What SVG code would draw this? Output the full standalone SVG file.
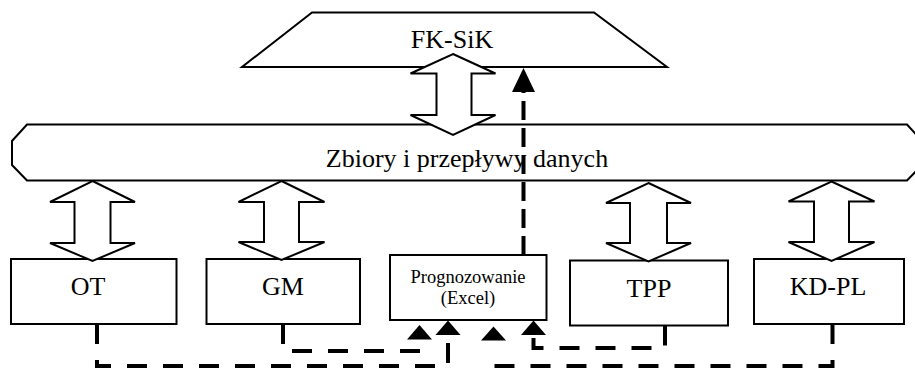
<svg xmlns="http://www.w3.org/2000/svg" width="915" height="370" viewBox="0 0 915 370">
<style>
.sh{fill:#fff;stroke:#000;stroke-width:2;stroke-linejoin:miter}
.t{font-family:"Liberation Serif","Times New Roman",serif;fill:#000;text-anchor:middle}
.big{font-size:26px}
.small{font-size:18.5px}
.dl{fill:none;stroke:#000;stroke-width:4;stroke-dasharray:20 16}
.dv{fill:none;stroke:#000;stroke-width:4;stroke-dasharray:19 8}
.ah{fill:#000;stroke:none}
</style>
<rect width="915" height="370" fill="#fff"/>
<g id="fksik">
<path class="sh" d="M312,12.5 L594,12.5 L667,67 L242,67 Z"/>
<text class="t big" x="452" y="48">FK-SiK</text>
</g>
<g id="zbiory">
<path class="sh" d="M27,124.5 L907,124.5 L922,141 L922,165 L907,180.5 L27,180.5 L12,165 L12,141 Z"/>
<text class="t big" x="467" y="167">Zbiory i przepływy danych</text>
</g>
<g id="ot">
<rect class="sh" x="11" y="259" width="165.5" height="65"/>
<text class="t big" x="88" y="295">OT</text>
</g>
<g id="gm">
<rect class="sh" x="206.5" y="259" width="153.5" height="65"/>
<text class="t big" x="283" y="295">GM</text>
</g>
<g id="prognozowanie">
<rect class="sh" x="390" y="255" width="156.5" height="65"/>
<text class="t small" x="468" y="283">Prognozowanie</text>
<text class="t small" x="468" y="304">(Excel)</text>
</g>
<g id="tpp">
<rect class="sh" x="570" y="260.5" width="158" height="65"/>
<text class="t big" x="649" y="296.5">TPP</text>
</g>
<g id="kdpl">
<rect class="sh" x="754" y="259" width="150" height="65"/>
<text class="t big" x="828" y="294.5">KD-PL</text>
</g>
<g id="connectors">
<path class="sh" d="M453,54 L495.5,73.5 L471.5,73.5 L471.5,115 L495.5,115 L453,135 L410.5,115 L436.5,115 L436.5,73.5 L410.5,73.5 Z"/>
<path class="sh" d="M92.5,181 L135,202 L110.5,202 L110.5,243 L135,243 L92.5,261 L50,243 L74.5,243 L74.5,202 L50,202 Z"/>
<path class="sh" d="M281.5,181 L324.5,202 L299,202 L299,242 L324.5,242 L281.5,260 L238.5,242 L264,242 L264,202 L238.5,202 Z"/>
<path class="sh" d="M648.5,183 L691,203 L667,203 L667,243 L691,243 L648.5,261.5 L606,243 L630,243 L630,203 L606,203 Z"/>
<path class="sh" d="M831.5,181.5 L874.5,201.5 L849,201.5 L849,242 L874.5,242 L831.5,261 L788.5,242 L814,242 L814,201.5 L788.5,201.5 Z"/>
<path class="dv" d="M523.5,255 V90"/>
<path class="ah" d="M523.5,68 L535,92 L512,92 Z"/>
<path class="dl" d="M97,324 V366 H448 V334"/>
<path class="ah" d="M448,320.5 L460.5,335 L435.5,335 Z"/>
<path class="dl" d="M283,324 V351 H420 V338"/>
<path class="ah" d="M419.5,325 L432,339.5 L407,339.5 Z"/>
<path class="dl" d="M665,325.5 V348 H533.5 V334"/>
<path class="ah" d="M533.5,320.5 L546,335 L521,335 Z"/>
<path class="dl" d="M832.5,324 V366 H493.5 V356"/>
<path class="ah" d="M493.5,326.5 L506,340.5 L481,340.5 Z"/>
</g>
</svg>
